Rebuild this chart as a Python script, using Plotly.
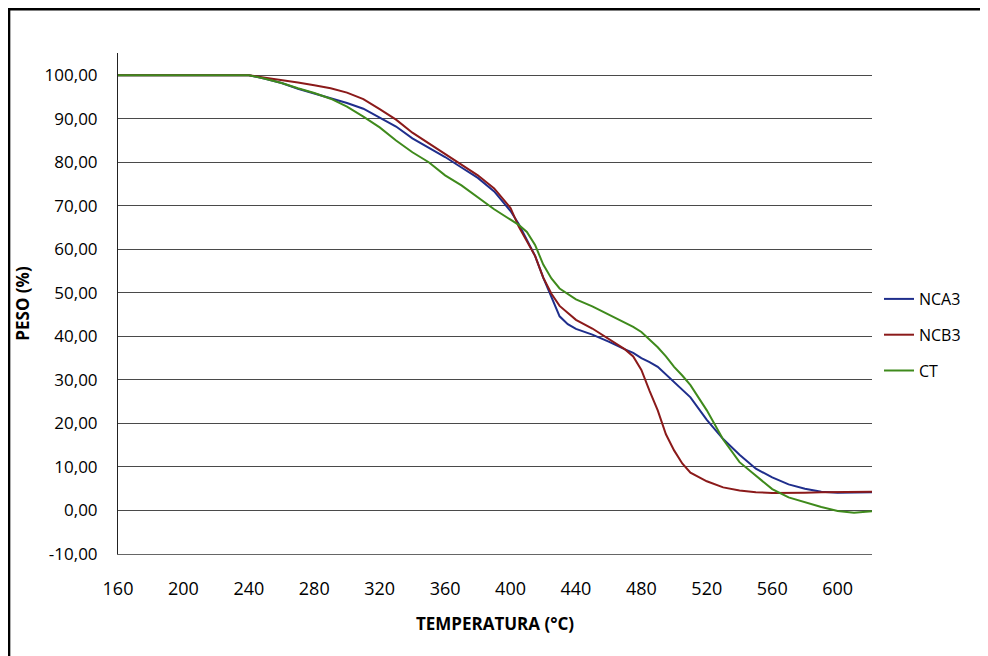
import plotly.graph_objects as go

temperature = [160, 240, 250, 260, 270, 280, 290, 300, 310, 320, 330, 340, 350, 360, 370, 380,
               390, 400, 405, 410, 415, 420, 425, 430, 435, 440, 450, 460, 470, 475, 480, 485,
               490, 495, 500, 505, 510, 520, 530, 540, 550, 560, 570, 580, 590, 600, 610, 621]

nca3 = [100, 100, 99.2, 98.2, 96.9, 95.8, 94.6, 93.6, 92.3, 90.3, 88.2, 85.5, 83.4, 81.2, 78.8, 76.4,
        73.3, 68.8, 65.8, 62.2, 58.5, 53.5, 49.0, 44.6, 42.8, 41.7, 40.4, 38.8, 37.0, 36.2, 35.0, 34.1,
        33.0, 31.3, 29.6, 27.9, 26.0, 20.8, 16.4, 12.8, 9.6, 7.6, 6.0, 5.0, 4.3, 4.1, 4.1, 4.2]

ncb3 = [100, 100, 99.4, 98.9, 98.3, 97.7, 97.0, 96.0, 94.5, 92.2, 89.8, 86.8, 84.3, 81.8, 79.3, 77.0,
        74.0, 69.5, 65.2, 62.0, 58.5, 53.5, 49.8, 47.0, 45.3, 43.8, 41.8, 39.4, 37.0, 35.4, 32.3, 27.5,
        23.0, 17.5, 13.8, 10.8, 8.7, 6.7, 5.3, 4.6, 4.2, 4.0, 4.0, 4.1, 4.2, 4.2, 4.2, 4.3]

ct = [100, 100, 99.2, 98.2, 97.0, 95.9, 94.6, 92.8, 90.5, 88.0, 85.0, 82.3, 80.0, 77.0, 74.7, 72.0,
      69.2, 66.8, 65.6, 64.0, 61.0, 56.5, 53.3, 51.0, 49.7, 48.5, 46.9, 45.0, 43.1, 42.2, 41.0, 39.3,
      37.5, 35.4, 33.0, 31.0, 28.8, 23.0, 16.3, 11.1, 8.0, 4.9, 3.0, 1.9, 0.8, -0.1, -0.5, -0.2]

series_names = ["NCA3", "NCB3", "CT"]
series_values = [nca3, ncb3, ct]
series_colors = ["#1F2E8C", "#8B1A1A", "#3F8A1C"]

x_ticks = [160, 200, 240, 280, 320, 360, 400, 440, 480, 520, 560, 600]
y_ticks = [-10, 0, 10, 20, 30, 40, 50, 60, 70, 80, 90, 100]
y_tick_text = [f"{v:.2f}".replace(".", ",") for v in y_ticks]

fig = go.Figure()
for i, (name, vals, col) in enumerate(zip(series_names, series_values, series_colors)):
    fig.add_trace(go.Scatter(x=temperature, y=vals, name=name, mode="lines",
                             line=dict(color=col, width=2), legendgroup=f"g{i}"))

# page body offset (default 8px margin) compensated
OFF = 8
L, R, T, B = 117.5 - OFF, 872.0 - OFF, 53.0 - OFF, 554.0 - OFF
W, H = 988, 656
pw, ph = R - L, B - T

def px_x(p):
    return (p - OFF - L) / pw

def px_y(p):
    return (B - (p - OFF)) / ph

fig.update_layout(
    width=W, height=H,
    margin=dict(l=L, r=W - R, t=T, b=H - B, pad=0),
    paper_bgcolor="white", plot_bgcolor="white",
    font=dict(family="Open Sans, sans-serif", color="#000000"),
    showlegend=True,
    legend=dict(x=px_x(879), y=px_y(335), xanchor="left", yanchor="middle",
                font=dict(size=16, color="#000000"), bgcolor="rgba(0,0,0,0)",
                tracegroupgap=12, traceorder="grouped"),
    xaxis=dict(range=[160, 621], tickvals=x_ticks, ticktext=[str(v) for v in x_ticks],
               showgrid=False, zeroline=False, showline=True, linecolor="#666666", linewidth=1,
               ticks="", tickfont=dict(size=18), ticklabelstandoff=18,
               title=dict(text="<b>TEMPERATURA (°C)</b>", font=dict(size=17), standoff=19)),
    yaxis=dict(range=[-10, 105.1], tickvals=y_ticks, ticktext=y_tick_text,
               showgrid=True, gridcolor="#4a4a4a", gridwidth=1, zeroline=False,
               showline=True, linecolor="#222222", linewidth=1,
               ticks="", tickfont=dict(size=17), ticklabelstandoff=16,
               title=dict(text="<b>PESO (%)</b>", font=dict(size=17), standoff=10)),
    shapes=[
        dict(type="line", xref="paper", yref="paper", x0=px_x(8.5), x1=px_x(1000), y0=px_y(9.2), y1=px_y(9.2),
             line=dict(color="black", width=2.5)),
        dict(type="line", xref="paper", yref="paper", x0=px_x(8.5), x1=px_x(8.5), y0=px_y(8), y1=px_y(670),
             line=dict(color="black", width=2.5)),
    ],
)

fig.write_html("out.html")
